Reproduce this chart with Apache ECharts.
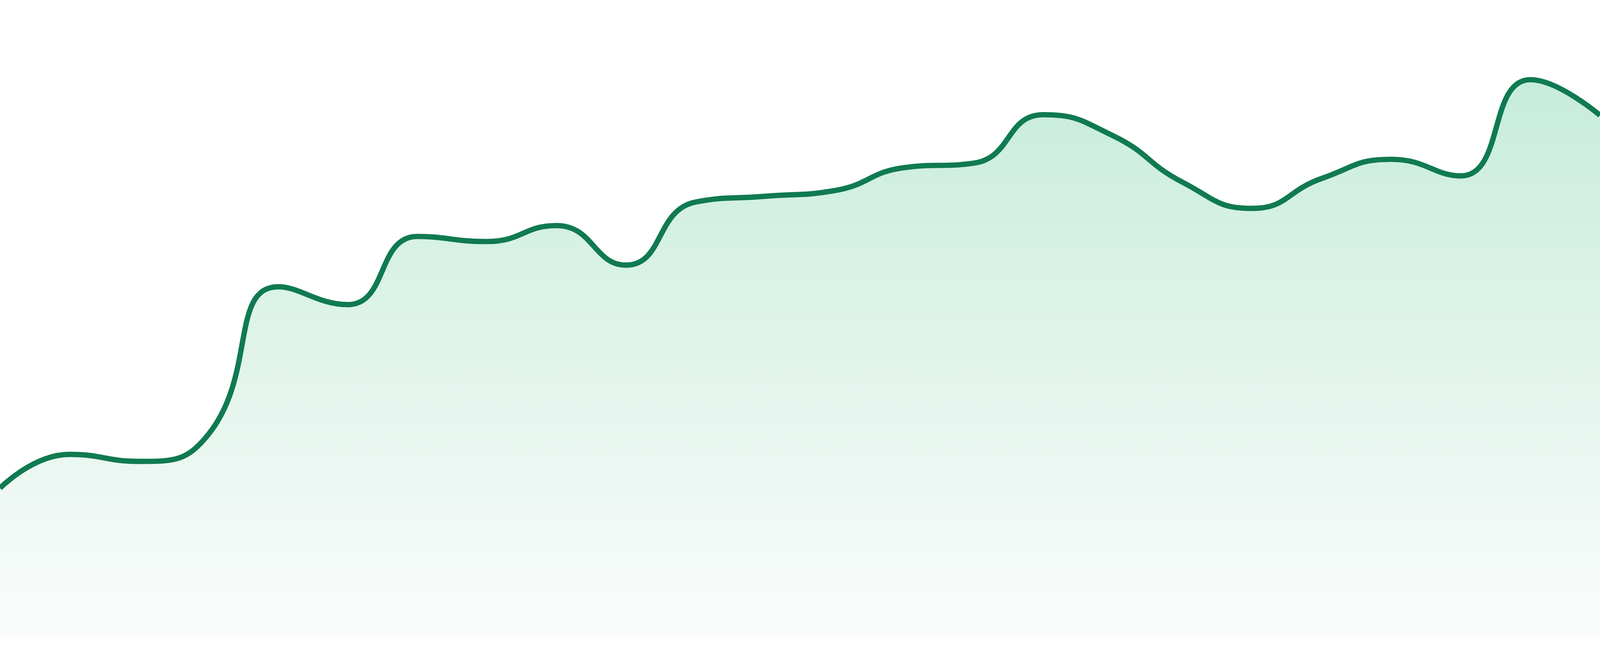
<!DOCTYPE html>
<html>
<head>
<meta charset="utf-8">
<script src="https://cdn.jsdelivr.net/npm/echarts@6/dist/echarts.min.js"></script>
<style>
  html, body { margin: 0; padding: 0; background: #ffffff; overflow: hidden; width: 100%; height: 100%; }
  #chart { width: 100vw; height: 100vh; }
</style>
</head>
<body>
<div id="chart"></div>
<script>
const categories = ['1','2','3','4','5','6','7','8','9','10','11','12','13','14','15','16','17','18','19','20','21','22','23','24'];
const values = [23.4, 28.7, 27.6, 31.9, 55.0, 52.2, 62.9, 62.1, 64.6, 58.4, 68.3, 69.2, 70.1, 73.7, 74.4, 82.0, 78.7, 71.4, 67.3, 72.0, 75.0, 72.4, 87.5, 81.9];
const yMin = 0;
const yMax = 100;

const el = document.getElementById('chart');
const scale = (el.clientWidth || window.innerWidth || 4800) / 4800;

const chart = echarts.init(el, null, { renderer: 'canvas' });
chart.setOption({
  animation: false,
  backgroundColor: '#ffffff',
  grid: { left: 0, right: 0, top: 0, bottom: '2.857%', containLabel: false },
  xAxis: {
    type: 'category',
    data: categories,
    boundaryGap: false,
    show: false
  },
  yAxis: {
    type: 'value',
    min: yMin,
    max: yMax,
    show: false,
    splitLine: { show: false }
  },
  series: [{
    type: 'line',
    data: values,
    smooth: true,
    showSymbol: false,
    symbol: 'none',
    lineStyle: { color: '#107a51', width: 16 * scale },
    itemStyle: { color: '#107a51' },
    areaStyle: {
      color: new echarts.graphic.LinearGradient(0, 0, 0, 1, [
        { offset: 0, color: '#afe4cd' },
        { offset: 1, color: '#f9fbfa' }
      ])
    }
  }]
});
window.addEventListener('resize', () => chart.resize());
</script>
</body>
</html>
